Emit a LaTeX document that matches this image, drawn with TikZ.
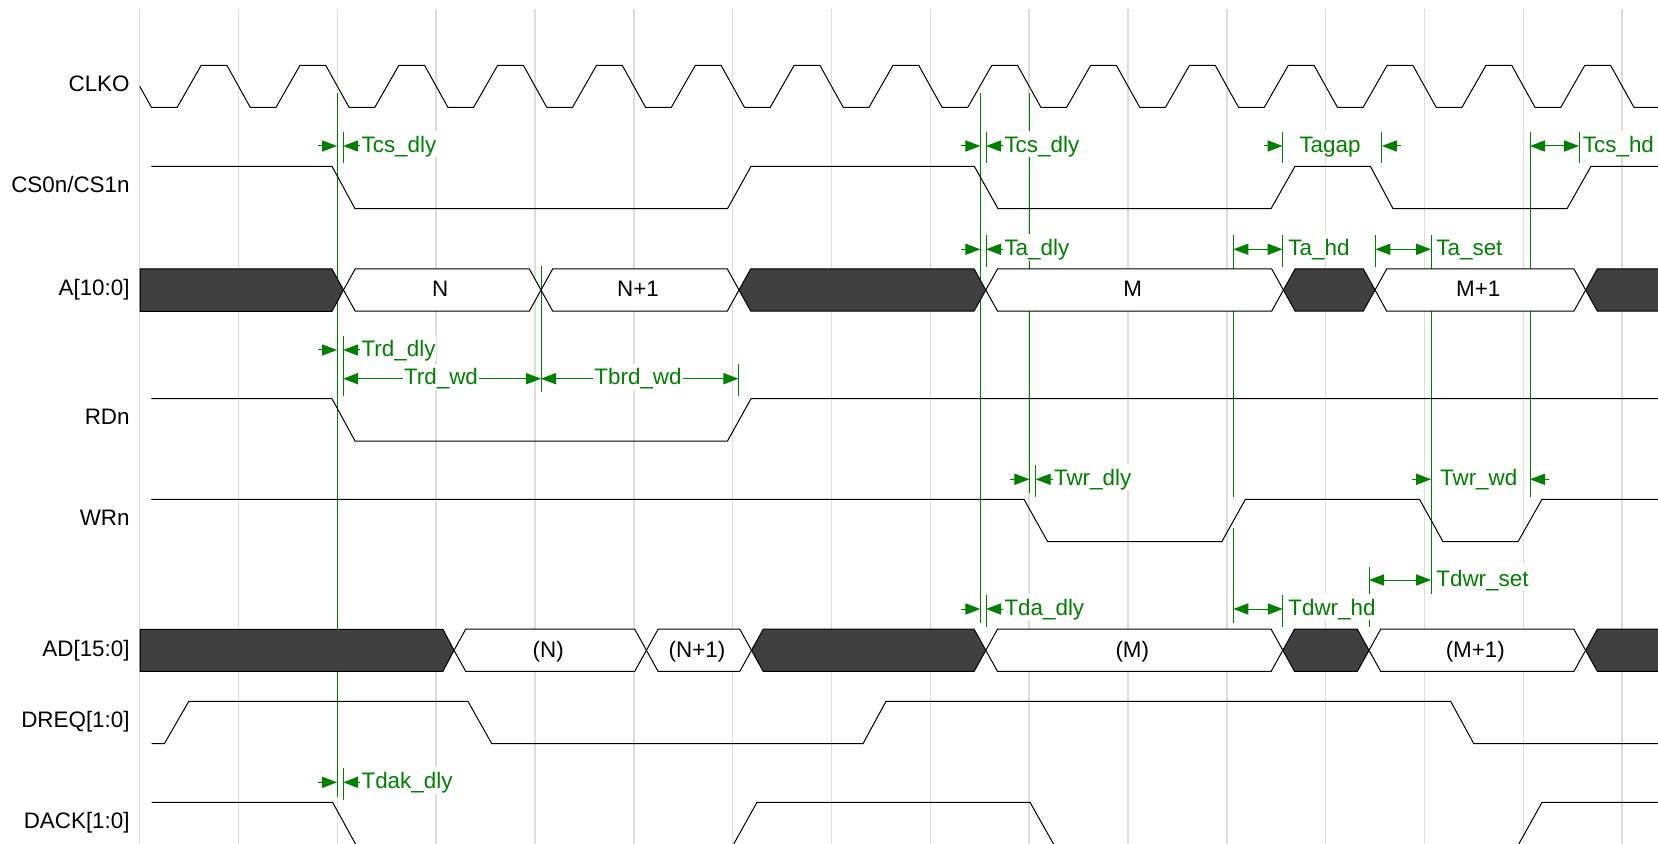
\documentclass[tikz,border=0pt]{standalone}
\usepackage{fontspec}
\setmainfont{Liberation Sans}
\usetikzlibrary{arrows.meta}
\definecolor{timegreen}{RGB}{0,128,0}
\definecolor{busdark}{RGB}{64,64,64}
\definecolor{gridgray}{RGB}{222,222,216}

\begin{document}
\begin{tikzpicture}[
      x=0.5pt, y=-0.5pt,
      font=\fontsize{11.2}{13}\selectfont,
      wire/.style={line width=0.5pt, black, line join=round},
      gridline/.style={line width=0.7pt, gridgray},
      busdata/.style={line width=0.5pt, draw=black, fill=white},
      busidle/.style={line width=0.5pt, draw=black, fill=busdark},
      tickline/.style={line width=0.5pt, timegreen},
      dim/.style={line width=0.5pt, timegreen, -{Triangle[length=7.5pt,width=5.6pt]}},
      dimboth/.style={line width=0.5pt, timegreen, {Triangle[length=7.5pt,width=5.6pt]}-{Triangle[length=7.5pt,width=5.6pt]}},
      timelabel/.style={timegreen, fill=white, inner ysep=0pt, inner xsep=0.5pt, text height=10.6pt, text depth=2.6pt, yshift=0.9pt},
      signame/.style={anchor=base east, inner sep=0pt},
      buslabel/.style={anchor=base, inner sep=0pt}
    ]
    \useasboundingbox (0,0) rectangle (1658,844);
    \foreach \i in {0,...,15} {
      \draw[gridline] ({139.7+98.83*\i},9) -- ({139.7+98.83*\i},844);
    }
    \foreach \x/\ya/\yb in {337/93.5/796.7, 980.3/93.3/622.7, 1029.4/93.3/493.3, 1233.4/235/496.7,
        1233.4/527.7/622.7, 1431/235/594.3, 1530/131.7/496.7, 541/266/392, 738.4/364.3/396.3,
        343.2/132/163.3, 343.2/336/396, 343.2/768.3/800, 986.1/131.7/163.3, 986.1/235/266.7,
        986.1/595/626.7, 1035.7/465/496.7, 1282.5/131.7/163.3, 1282.5/235/266.7, 1282.8/595/626.7,
        1381.9/131.7/163.3, 1375.4/235/266.7, 1579/131.7/163.3, 1369/566.7/626.7} {
      \draw[tickline] (\x,\ya) -- (\x,\yb);
    }
    \draw[busidle] (140,269) -- (332,269) -- (343.5,290) -- (332,311.3) -- (140,311.3) -- cycle;
    \draw[busidle] (140,629.3) -- (442.9,629.3) -- (454,650.3) -- (442.9,671.3) -- (140,671.3) -- cycle;
    \foreach \l/\r/\yy in {739/985.8/290, 1283.4/1375/290, 751.5/985.8/650.3, 1282.8/1369/650.3} {
      \draw[busidle] (\l,\yy) -- (\l+11.7,\yy-21.1) -- (\r-11.7,\yy-21.1) -- (\r,\yy) -- (\r-11.7,\yy+21.1) -- (\l+11.7,\yy+21.1) -- cycle;
    }
    \foreach \yy in {290, 650.3} {
      \draw[busidle] (1658,\yy-21.1) -- (1597.3,\yy-21.1) -- (1585.6,\yy) -- (1597.3,\yy+21.1) -- (1658,\yy+21.1);
    }
    \foreach \nm/\l/\r/\yy/\txt in {addrN/343.5/541/290/N, addrNa/541/739/290/N+1, addrM/985.8/1283.4/290/M,
        addrMa/1375/1585.6/290/M+1, dataN/454/646.4/650.3/{(N)}, dataNa/646.4/751.5/650.3/{(N+1)},
        dataM/985.8/1282.8/650.3/{(M)}, dataMa/1369/1585.6/650.3/{(M+1)}} {
      \draw[busdata] (\l,\yy) -- (\l+11.7,\yy-21.1) -- (\r-11.7,\yy-21.1) -- (\r,\yy) -- (\r-11.7,\yy+21.1) -- (\l+11.7,\yy+21.1) -- cycle;
      \node[buslabel] (\nm) at ({(\l+\r)/2-2},\yy+7) {\txt};
    }
    \foreach \i in {0,...,14} {
      \pgfmathsetmacro{\gx}{139.7+98.83*\i}
      \draw[wire] (\gx,86.3) -- (\gx+11.7,107.3) -- (\gx+37.5,107.3) -- (\gx+61.5,65.3) -- (\gx+87.2,65.3) -- (\gx+98.83,86.3);
    }
    \draw[wire] (1622.2,86.3) -- (1633.9,107.3) -- (1658,107.3);
    \draw[wire] (151.4,166.3) -- (332,166.3) -- (355,208.7) -- (727.5,208.7) -- (751,166.3) -- (974.3,166.3) -- (998,208.7) -- (1271,208.7) -- (1295,166.3) -- (1370.4,166.3) -- (1393,208.7) -- (1567,208.7) -- (1591,166.3) -- (1658,166.3);
    \draw[wire] (151.4,398.7) -- (332,398.7) -- (355,441) -- (727.5,441) -- (751,398.7) -- (1658,398.7);
    \draw[wire] (151.4,499.3) -- (1024,499.3) -- (1047.7,541.7) -- (1221.8,541.7) -- (1245.4,499.3) -- (1419.5,499.3) -- (1443,541.7) -- (1518,541.7) -- (1542,499.3) -- (1658,499.3);
    \draw[wire] (151.5,743.7) -- (164.3,743.7) -- (188.8,701.3) -- (467.9,701.3) -- (491.8,743.7) -- (863,743.7) -- (886,701.3) -- (1450.6,701.3) -- (1473.8,743.7) -- (1658,743.7);
    \draw[wire] (151.5,802.3) -- (332.6,802.3) -- (355.5,844);
    \draw[wire] (733.7,844) -- (757,802.3) -- (1030,802.3) -- (1053.5,844);
    \draw[wire] (1518.8,844) -- (1542,802.3) -- (1658,802.3);
    \foreach \nm/\yy/\txt in {clko/91.5/CLKO, csn/192.5/{CS0n/CS1n}, addr/296/A[10:0], rdn/424.5/RDn, wrn/525/WRn,
        data/656.5/AD[15:0], dreq/727.5/DREQ[1:0], dack/828.5/DACK[1:0]} {
      \node[signame] (\nm) at (130,\yy) {\txt};
    }
    \foreach \nm/\xa/\xb/\yy/\txt in {tcsa/337/343.2/146/Tcs\_dly, tcsb/980.3/986.1/146/Tcs\_dly,
        tad/980.3/986.1/249.3/Ta\_dly, trd/337/343.2/350/Trd\_dly, twr/1029.4/1035.7/479.3/Twr\_dly,
        tda/980.3/986.1/609/Tda\_dly, tdak/337/343.2/782.3/Tdak\_dly} {
      \coordinate (\nm s) at (\xa-19,\yy);
      \coordinate (\nm a) at (\xa,\yy);
      \coordinate (\nm b) at (\xb,\yy);
      \coordinate (\nm e) at (\xb+17,\yy);
      \draw[dim] (\nm s) -- (\nm a);
      \draw[dim] (\nm e) -- (\nm b);
      \node[timelabel, anchor=west] (\nm l) at (\nm e) {\txt};
    }
    \foreach \nm/\xa/\xb/\yy/\xt/\txt in {tcsh/1530/1579/146/1581.5/Tcs\_hd, tahd/1233.4/1282.5/249.3/1287/Ta\_hd,
        taset/1375.4/1431/249.3/1435/Ta\_set, tdset/1369/1431/580/1435/Tdwr\_set, tdhd/1233.4/1282.8/609/1287/Tdwr\_hd} {
      \coordinate (\nm a) at (\xa,\yy);
      \coordinate (\nm b) at (\xb,\yy);
      \draw[dimboth] (\nm a) -- (\nm b);
      \node[timelabel, anchor=west] (\nm l) at (\xt,\yy) {\txt};
    }
    \foreach \nm/\xa/\xb/\yy/\xt/\txt in {trdw/343.2/541/378.7/441/Trd\_wd, tbrd/541/738.4/378.7/638/Tbrd\_wd} {
      \coordinate (\nm a) at (\xa,\yy);
      \coordinate (\nm b) at (\xb,\yy);
      \draw[dimboth] (\nm a) -- (\nm b);
      \node[timelabel] (\nm l) at (\xt,\yy) {\txt};
    }
    \foreach \nm/\xa/\xb/\yy/\xt/\txt in {tgap/1282.5/1381.9/146/1330/Tagap, twrw/1431/1530/479.3/1478.7/Twr\_wd} {
      \coordinate (\nm s) at (\xa-19,\yy);
      \coordinate (\nm a) at (\xa,\yy);
      \coordinate (\nm b) at (\xb,\yy);
      \coordinate (\nm e) at (\xb+19,\yy);
      \draw[dim] (\nm s) -- (\nm a);
      \draw[dim] (\nm e) -- (\nm b);
      \node[timelabel] (\nm l) at (\xt,\yy) {\txt};
    }
    \end{tikzpicture}
\end{document}
